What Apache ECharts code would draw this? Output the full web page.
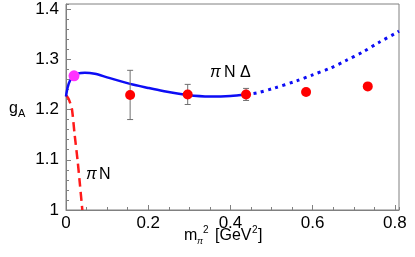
<!DOCTYPE html>
<html>
<head>
<meta charset="utf-8">
<script src="https://cdn.jsdelivr.net/npm/echarts@6/dist/echarts.min.js"></script>
<style>html,body{margin:0;padding:0;background:#fff}#c{width:415px;height:257px}</style>
</head>
<body>
<div id="c"></div>
<script>
// Blue solid curve (pi N Delta), fitted range
const solidX = [0, 0.004, 0.01, 0.0195, 0.03, 0.046, 0.07, 0.1, 0.156, 0.2, 0.236, 0.296, 0.35, 0.4, 0.438];
const solidY = [1.226, 1.244, 1.258, 1.267, 1.272, 1.273, 1.271, 1.264, 1.251, 1.243, 1.237, 1.229, 1.226, 1.227, 1.230];
// Blue dotted extrapolation
const dotX = [0.438, 0.464, 0.504, 0.561, 0.6, 0.642, 0.68, 0.723, 0.76, 0.802, 0.81];
const dotY = [1.230, 1.233, 1.242, 1.257, 1.269, 1.282, 1.297, 1.315, 1.333, 1.352, 1.356];
// Red dashed curve (pi N)
const dashX = [0.001, 0.006, 0.0105, 0.0146, 0.021, 0.028, 0.034, 0.0397];
const dashY = [1.228, 1.222, 1.212, 1.2, 1.15, 1.1, 1.05, 1.0];
// Lattice points
const latX = [0.156, 0.296, 0.438, 0.584, 0.734];
const latY = [1.229, 1.230, 1.230, 1.235, 1.246];
const latErr = [0.049, 0.020, 0.012, 0.004, 0.003];
// Physical point
const physX = [0.0195];
const physY = [1.267];
// Ticks
const xTicks = [0, 0.2, 0.4, 0.6, 0.8];
const yTicks = [1, 1.1, 1.2, 1.3, 1.4];

const zip = (a, b) => a.map((v, i) => [v, b[i]]);
const FONT = 'Liberation Sans, Arial, sans-serif';
const GRAY = '#808080';

const chart = echarts.init(document.getElementById('c'), null, {renderer: 'canvas'});
const axisBase = {
  type: 'value', splitLine: {show: false}
};
chart.setOption({
  animation: false,
  grid: {left: 66, right: 16, top: 4, bottom: 47, show: true, borderColor: GRAY, borderWidth: 1, backgroundColor: 'transparent'},
  xAxis: [
    Object.assign({}, axisBase, {
      position: 'bottom', min: 0, max: 0.81, interval: 0.2,
      axisLine: {lineStyle: {color: GRAY, width: 1}},
      axisTick: {inside: true, length: 5, lineStyle: {color: GRAY}},
      axisLabel: {color: '#000', fontSize: 17, fontFamily: FONT, margin: 5, showMaxLabel: false,
        formatter: v => xTicks.some(t => Math.abs(t - v) < 1e-9) ? String(+v.toFixed(2)) : ''}
    }),
    Object.assign({}, axisBase, {
      position: 'bottom', min: 0, max: 0.81, interval: 0.05,
      axisLine: {show: false},
      axisTick: {inside: true, length: 3, lineStyle: {color: GRAY}},
      axisLabel: {show: false}
    })
  ],
  yAxis: [
    Object.assign({}, axisBase, {
      position: 'left', min: 1, max: 1.41, interval: 0.1,
      axisLine: {show: true, lineStyle: {color: GRAY, width: 1}},
      axisTick: {show: true, inside: true, length: 5, lineStyle: {color: GRAY}},
      axisLabel: {color: '#000', fontSize: 17, fontFamily: FONT, margin: 7, showMaxLabel: false,
        formatter: v => yTicks.some(t => Math.abs(t - v) < 1e-9) ? String(+v.toFixed(2)) : ''}
    }),
    Object.assign({}, axisBase, {
      position: 'left', min: 1, max: 1.41, interval: 0.02,
      axisLine: {show: false},
      axisTick: {show: true, inside: true, length: 3, lineStyle: {color: GRAY}},
      axisLabel: {show: false}
    })
  ],
  series: [
    {type: 'line', data: zip(solidX, solidY), smooth: 0.3, showSymbol: false, z: 3,
      lineStyle: {color: '#0d0df5', width: 2.5}},
    {type: 'line', data: zip(dotX, dotY), smooth: 0.3, showSymbol: false, z: 3,
      lineStyle: {color: '#0d0df5', width: 3, type: [3, 4.5], cap: 'butt'}},
    {type: 'line', data: zip(dashX, dashY), smooth: 0.3, showSymbol: false, z: 2,
      lineStyle: {color: '#ff1a1a', width: 2.5, type: [9, 5], cap: 'butt'}},
    {type: 'custom', z: 4,
      data: latX.map((x, i) => [x, latY[i] - latErr[i], latY[i] + latErr[i]]),
      renderItem: (params, api) => {
        const lo = api.coord([api.value(0), api.value(1)]);
        const hi = api.coord([api.value(0), api.value(2)]);
        const w = 3;
        const st = {stroke: '#707070', lineWidth: 1};
        return {type: 'group', children: [
          {type: 'line', shape: {x1: lo[0], y1: lo[1], x2: hi[0], y2: hi[1]}, style: st},
          {type: 'line', shape: {x1: lo[0] - w, y1: lo[1], x2: lo[0] + w, y2: lo[1]}, style: st},
          {type: 'line', shape: {x1: hi[0] - w, y1: hi[1], x2: hi[0] + w, y2: hi[1]}, style: st}
        ]};
      }},
    {type: 'scatter', data: zip(latX, latY), symbolSize: 10, z: 5,
      itemStyle: {color: '#ff0000', opacity: 1}},
    {type: 'scatter', data: zip(physX, physY), symbolSize: 11, z: 5,
      itemStyle: {color: '#ff33ff', opacity: 1}}
  ],
  graphic: [
    {type: 'text', left: 9, top: 101, style: {text: 'g', font: '16px ' + FONT, fill: '#000'}},
    {type: 'text', left: 18, top: 108, style: {text: 'A', font: '11px ' + FONT, fill: '#000'}},
    {type: 'text', left: 210, top: 65, style: {text: 'π', font: 'italic 16px ' + FONT, fill: '#000'}},
    {type: 'text', left: 224, top: 65, style: {text: 'N Δ', font: '16px ' + FONT, fill: '#000'}},
    {type: 'text', left: 86, top: 167, style: {text: 'π', font: 'italic 16px ' + FONT, fill: '#000'}},
    {type: 'text', left: 99, top: 167, style: {text: 'N', font: '16px ' + FONT, fill: '#000'}},
    {type: 'text', left: 184, top: 228, style: {text: 'm', font: '16px ' + FONT, fill: '#000'}},
    {type: 'text', left: 197, top: 237, style: {text: 'π', font: 'italic 9px ' + FONT, fill: '#000'}},
    {type: 'text', left: 203, top: 225, style: {text: '2', font: '10px ' + FONT, fill: '#000'}},
    {type: 'text', left: 215, top: 228, style: {text: '[GeV', font: '16px ' + FONT, fill: '#000'}},
    {type: 'text', left: 252, top: 225, style: {text: '2', font: '10px ' + FONT, fill: '#000'}},
    {type: 'text', left: 258, top: 228, style: {text: ']', font: '16px ' + FONT, fill: '#000'}}
  ]
});
</script>
</body>
</html>
